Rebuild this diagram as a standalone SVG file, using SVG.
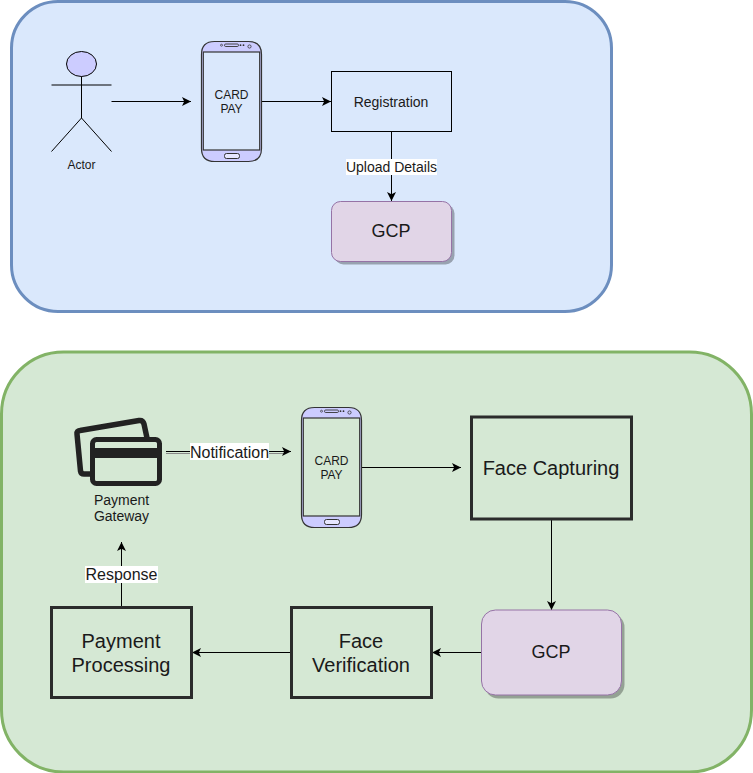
<svg xmlns="http://www.w3.org/2000/svg" width="753" height="773" viewBox="0 0 753 773">
<style>
text{font-family:"Liberation Sans",Arial,sans-serif;fill:#1a1a1a;text-anchor:middle}
.c{fill:none;stroke:#000;stroke-width:1}
.b{fill:none;stroke:#2b2b2b;stroke-width:3}
.gcp{fill:#e1d5e7;stroke:#9673a6;stroke-width:1}
.sh{fill:#000;fill-opacity:.3;stroke:none}
.ph{fill:#ccccff;stroke:#333;stroke-width:1.2}
.scr{stroke:#333;stroke-width:1.2}
.lbl{fill:#fff}
</style>
<defs>
<marker id="a" markerWidth="10" markerHeight="10" refX="9" refY="4.500" orient="auto" markerUnits="userSpaceOnUse"><path d="M0 0L9 4.500L0 9L2.200 4.500Z" fill="#000"/></marker>
<g id="phone">
<path class="ph" d="M0 13Q0 0 13 0H47Q60 0 60 13V107Q60 120 47 120H13Q0 120 0 107Z"/>
<rect class="scr" x="1.800" y="10.500" width="56.400" height="98"/>
<rect x="23" y="2.500" width="14" height="2.500" rx="1.200" fill="none" stroke="#333" stroke-width=".9"/>
<circle cx="20" cy="3.700" r="1" fill="none" stroke="#333" stroke-width=".7"/>
<circle cx="39" cy="3.700" r=".9" fill="#333"/><circle cx="42" cy="3.700" r=".9" fill="#333"/>
<circle cx="48" cy="5" r="1.600" fill="none" stroke="#333" stroke-width=".8"/>
<rect x="23" y="112" width="15" height="5" rx="2" fill="#e6e6ff" stroke="#333"/>
</g>
</defs>
<g id="panel-top"><rect x="11.500" y="1.500" width="600" height="310" rx="46.500" fill="#dae8fc" stroke="#6c8ebf" stroke-width="3"/></g>
<g id="panel-bottom"><rect x="1.500" y="352" width="750" height="420" rx="62" fill="#d5e8d4" stroke="#82b366" stroke-width="3"/></g>
<g id="connectors">
<path class="c" d="M111.500 101.500H191" marker-end="url(#a)"/>
<path class="c" d="M261.500 101.500H331" marker-end="url(#a)"/>
<path class="c" d="M391.500 131.500V201" marker-end="url(#a)"/>
<path d="M166 453.500H283" fill="none" stroke="#888" stroke-width="1"/>
<path class="c" d="M166 451.500H291" marker-end="url(#a)"/>
<path class="c" d="M361.500 467.500H461" marker-end="url(#a)"/>
<path class="c" d="M551.500 519V610" marker-end="url(#a)"/>
<path class="c" d="M481.500 652.500H432" marker-end="url(#a)"/>
<path class="c" d="M291.500 652.500H192" marker-end="url(#a)"/>
<path class="c" d="M121.500 607V542" marker-end="url(#a)"/>
</g>
<g id="label-upload"><rect class="lbl" x="346" y="159" width="91" height="16"/><text x="391.500" y="172" font-size="14">Upload Details</text></g>
<g id="label-notification"><rect class="lbl" x="190" y="443" width="79" height="17"/><text x="229.500" y="458" font-size="16">Notification</text></g>
<g id="label-response"><rect class="lbl" x="85" y="566" width="73" height="17"/><text x="121.500" y="580" font-size="16">Response</text></g>
<g id="actor">
<ellipse cx="81.500" cy="64" rx="15" ry="12.500" fill="#ccccff" stroke="#000" stroke-width="1"/>
<path class="c" d="M81.500 76.500V118M51.500 85H111.500M51.500 151.500L81.500 118L111.500 151.500"/>
<text x="81.500" y="169" font-size="12">Actor</text>
</g>
<g id="phone-top"><use href="#phone" x="201.500" y="41.500" fill="#dae8fc"/><text x="231.500" y="99" font-size="12">CARD</text><text x="231.500" y="113" font-size="12">PAY</text></g>
<g id="registration"><rect x="331.500" y="71.500" width="120" height="60" fill="none" stroke="#000"/><text x="391" y="107" font-size="14">Registration</text></g>
<g id="gcp-top"><rect class="sh" x="334.500" y="204.500" width="120" height="60" rx="9"/><rect class="gcp" x="331.500" y="201.500" width="120" height="60" rx="9"/><text x="391" y="237" font-size="18">GCP</text></g>
<g id="payment-gateway">
<path d="M91 474H84Q81 474 80.500 471L77 434Q76.500 431 80 430.500L139 420.500Q143 420 144 424L147 438" fill="none" stroke="#222" stroke-width="5.500" stroke-linejoin="round"/>
<rect x="92.500" y="439.500" width="67" height="44" rx="4" fill="#d5e8d4" stroke="#222" stroke-width="5"/>
<rect x="92" y="448" width="68" height="10" fill="#222"/>
<text x="121.500" y="505" font-size="14">Payment</text><text x="121.500" y="521" font-size="14">Gateway</text>
</g>
<g id="phone-bottom"><use href="#phone" x="301.500" y="407.500" fill="#d5e8d4"/><text x="331.500" y="465" font-size="12">CARD</text><text x="331.500" y="479" font-size="12">PAY</text></g>
<g id="face-capturing"><rect class="b" x="471.500" y="417" width="160" height="102"/><text x="551" y="475" font-size="20">Face Capturing</text></g>
<g id="gcp-bottom"><rect class="sh" x="484.500" y="613.500" width="140" height="85" rx="14"/><rect class="gcp" x="481.500" y="610" width="140" height="85" rx="14"/><text x="551" y="658" font-size="18">GCP</text></g>
<g id="face-verification"><rect class="b" x="291.500" y="607.500" width="140" height="90"/><text x="361" y="648" font-size="20">Face</text><text x="361" y="672" font-size="20">Verification</text></g>
<g id="payment-processing"><rect class="b" x="51.500" y="607.500" width="140" height="90"/><text x="121" y="648" font-size="20">Payment</text><text x="121" y="672" font-size="20">Processing</text></g>
</svg>
